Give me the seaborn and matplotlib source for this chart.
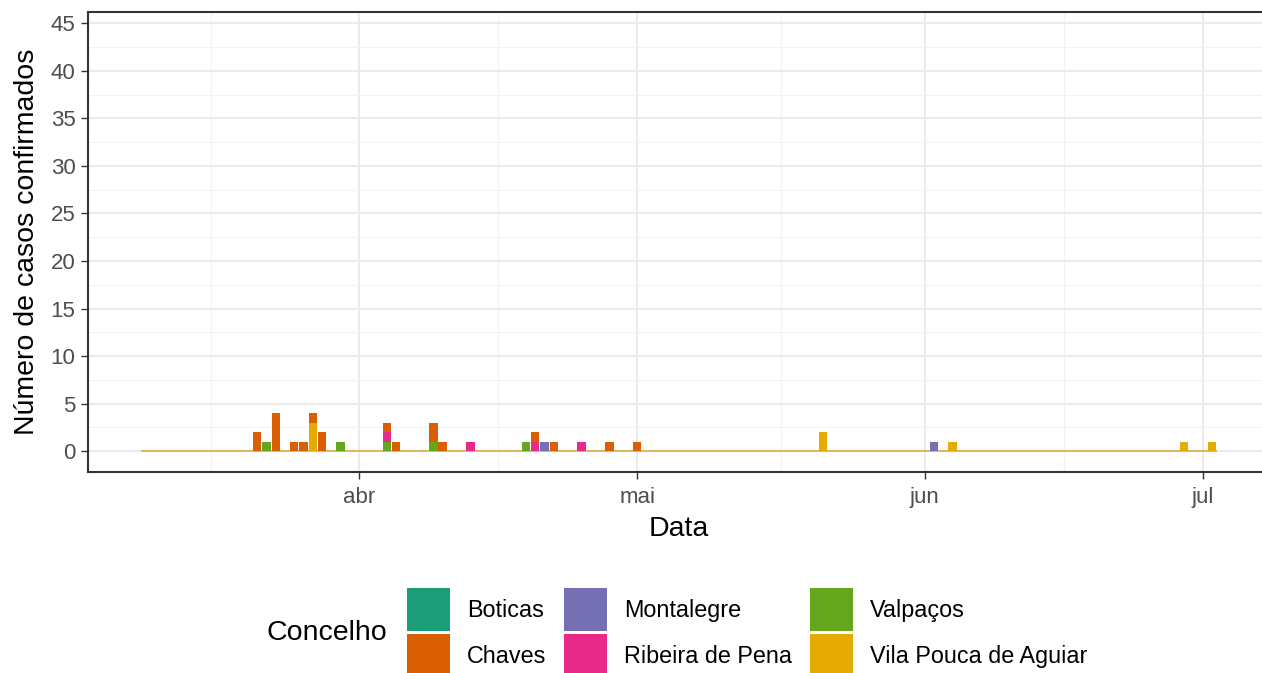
import matplotlib
matplotlib.use('Agg')
import matplotlib.pyplot as plt
import matplotlib.dates as mdates
from matplotlib.patches import Patch
import seaborn as sns
import pandas as pd
import numpy as np

# Casos confirmados por concelho e por dia
concelhos = ['Boticas', 'Chaves', 'Montalegre', 'Ribeira de Pena', 'Valpaços', 'Vila Pouca de Aguiar']
cores = ['#1B9E77', '#D95F02', '#7570B3', '#E7298A', '#66A61E', '#E6AB02']

boticas_datas = []
boticas_casos = []
chaves_datas = ['2020-03-21', '2020-03-23', '2020-03-25', '2020-03-26', '2020-03-27', '2020-03-28',
                '2020-04-04', '2020-04-05', '2020-04-09', '2020-04-10', '2020-04-20', '2020-04-22',
                '2020-04-28', '2020-05-01']
chaves_casos = [2, 4, 1, 1, 1, 2, 1, 1, 2, 1, 1, 1, 1, 1]
montalegre_datas = ['2020-04-21', '2020-06-02']
montalegre_casos = [1, 1]
ribeira_datas = ['2020-04-04', '2020-04-13', '2020-04-20', '2020-04-25']
ribeira_casos = [1, 1, 1, 1]
valpacos_datas = ['2020-03-22', '2020-03-30', '2020-04-04', '2020-04-09', '2020-04-19']
valpacos_casos = [1, 1, 1, 1, 1]
vila_datas = ['2020-03-27', '2020-05-21', '2020-06-04', '2020-06-29', '2020-07-02']
vila_casos = [3, 2, 1, 1, 1]

inicio, fim = '2020-03-09', '2020-07-02'
meses = ['2020-04-01', '2020-05-01', '2020-06-01', '2020-07-01']
meses_rotulos = ['abr', 'mai', 'jun', 'jul']
y_ticks = list(range(0, 50, 5))

series = {
    'Boticas': (boticas_datas, boticas_casos),
    'Chaves': (chaves_datas, chaves_casos),
    'Montalegre': (montalegre_datas, montalegre_casos),
    'Ribeira de Pena': (ribeira_datas, ribeira_casos),
    'Valpaços': (valpacos_datas, valpacos_casos),
    'Vila Pouca de Aguiar': (vila_datas, vila_casos),
}

dias = pd.date_range(inicio, fim, freq='D')
tabela = pd.DataFrame(0, index=dias, columns=concelhos)
for nome, (datas, casos) in series.items():
    for d, c in zip(datas, casos):
        tabela.loc[pd.Timestamp(d), nome] = c

sns.set_theme(style='whitegrid')
plt.rcParams['font.family'] = ['Liberation Sans', 'DejaVu Sans']
plt.rcParams['text.color'] = 'black'
plt.rcParams['axes.labelcolor'] = 'black'

fig = plt.figure(figsize=(12.62, 6.73), dpi=100)
ax = fig.add_axes([88 / 1262, 1 - 471.7 / 673, (1270 - 88) / 1262, (471.7 - 12.3) / 673])
ax.set_facecolor('white')

x = mdates.date2num(dias.to_pydatetime())
# barras a zero (linha de base)
ax.bar(x, np.zeros(len(x)), width=1.0, bottom=0, fill=False,
       edgecolor='#E0A733', linewidth=1.1, zorder=2)

# empilhamento: primeiro nível fica em cima
base = np.zeros(len(x))
for nome, cor in reversed(list(zip(concelhos, cores))):
    v = tabela[nome].values.astype(float)
    ax.bar(x, v, width=0.9, bottom=base, color=cor, linewidth=0, zorder=3)
    base += v

# eixos
x0 = mdates.date2num(pd.Timestamp('2020-04-01').to_pydatetime())
ax.set_xlim(x0 - 29.25, x0 + 98.25)
ax.set_ylim(-2.15, 46.15)

ax.set_xticks(mdates.date2num([pd.Timestamp(m).to_pydatetime() for m in meses]))
ax.set_xticklabels(meses_rotulos)
ax.set_xticks(mdates.date2num([pd.Timestamp(m).to_pydatetime() for m in
                               ['2020-03-16', '2020-04-16', '2020-05-16 12:00', '2020-06-16']]), minor=True)
ax.set_yticks(y_ticks)
ax.set_yticks(np.arange(2.5, 46, 5), minor=True)

ax.grid(which='major', color='#EBEBEB', linewidth=1.5, zorder=0)
ax.grid(which='minor', color='#F2F2F2', linewidth=0.8, zorder=0)
ax.set_axisbelow(True)

ax.tick_params(axis='both', which='major', labelsize=16, labelcolor='#4D4D4D',
               color='#333333', length=5, width=1, bottom=True, left=True)
ax.tick_params(axis='x', which='major', pad=6)
ax.tick_params(axis='y', which='major', pad=4)
ax.tick_params(axis='both', which='minor', length=0)
for s in ax.spines.values():
    s.set_color('#333333')
    s.set_linewidth(1.5)

ax.set_xlabel('Data', fontsize=20.5, color='black', labelpad=6)
ax.set_ylabel('Número de casos confirmados', fontsize=20.5, color='black', labelpad=8)

# legenda
fs = 16.8
handles = [Patch(facecolor=c, edgecolor='none', label=n) for n, c in zip(concelhos, cores)]
fig.legend(handles=handles, ncol=3, loc='upper left', bbox_to_anchor=(407 / 1262, 1 - 588 / 673),
           frameon=False, fontsize=fs, handlelength=1.845, handleheight=2.46,
           labelspacing=0.13, handletextpad=0.73, columnspacing=0.75,
           borderpad=0, borderaxespad=0)
fig.text(267 / 1262, 1 - 633 / 673, 'Concelho', fontsize=20.5, ha='left', va='center')

fig.savefig('out.png', dpi=100)
